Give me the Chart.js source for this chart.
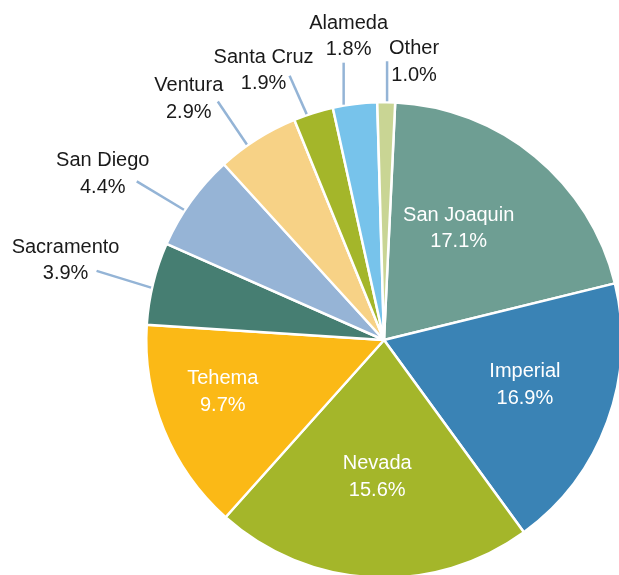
<!DOCTYPE html>
<html>
<head>
<meta charset="utf-8">
<script src="https://cdn.jsdelivr.net/npm/chart.js@4"></script>
<style>
  html, body { margin: 0; padding: 0; background: #fff; overflow: hidden; }
  #wrap { position: relative; width: 640px; height: 600px; }
</style>
</head>
<body>
<div id="wrap"><canvas id="piecanvas"></canvas></div>
<script>
// slice names, share of the circle, printed percentage labels
let counties = ["San Joaquin", "Imperial", "Nevada", "Tehema", "Sacramento",
                "San Diego", "Ventura", "Santa Cruz", "Alameda", "Other"];
let sliceShares = [20.4, 18.8, 21.6, 14.4, 5.6, 6.6, 5.6, 2.7, 3.0, 1.2];
let labelPercents = ["17.1%", "16.9%", "15.6%", "9.7%", "3.9%",
                     "4.4%", "2.9%", "1.9%", "1.8%", "1.0%"];
let sliceColors = ["#6e9e93", "#3a83b5", "#a4b62a", "#fbb916", "#467e72",
                   "#96b4d6", "#f7d286", "#a4b62a", "#77c3eb", "#c9d594"];

// label placement: inside labels use [angle shift deg, radius factor],
// outside labels use [start angle shift deg, line direction deg, line length, text dx, text dy]
let insideLayout = { 0: [-6, 0.57], 1: [-3, 0.62], 2: [0, 0.57], 3: [5, 0.71] };
let calloutLayout = {
    4: [-1.1, 287, 57, -31, -12],
    5: [-2.7, 301, 55, -34, -9],
    6: [-2.8, 326, 52, -29, -4],
    7: [-1.6, 336, 42, -26, -7],
    8: [-2.7, 360, 42, 5, -28],
    9: [0.2, 0, 40, 27, -1]
};

const FONT = '20px "Liberation Sans", Arial, Helvetica, sans-serif';

function drawTwoLines(ctx, x, y, a, b) {
    ctx.fillText(a, x, y - 11.5);
    ctx.fillText(b, x, y + 15);
}

const pieLabels = {
    id: 'pieLabels',
    afterDatasetsDraw(chart) {
        let ctx = chart.ctx;
        let arcs = chart.getDatasetMeta(0).data;
        ctx.save();
        ctx.font = FONT;
        ctx.textAlign = 'center';
        ctx.textBaseline = 'middle';
        arcs.forEach(function(arc, i) {
            let mid = (arc.startAngle + arc.endAngle) / 2;
            let r = arc.outerRadius;
            if (insideLayout[i]) {
                let lay = insideLayout[i];
                let a = mid + lay[0] * Math.PI / 180;
                let x = arc.x + Math.cos(a) * r * lay[1];
                let y = arc.y + Math.sin(a) * r * lay[1];
                ctx.fillStyle = '#ffffff';
                drawTwoLines(ctx, x, y, counties[i], labelPercents[i]);
            } else if (calloutLayout[i]) {
                let lay = calloutLayout[i];
                let s = mid + lay[0] * Math.PI / 180;
                let sx = arc.x + Math.cos(s) * (r + 1);
                let sy = arc.y + Math.sin(s) * (r + 1);
                let d = (lay[1] - 90) * Math.PI / 180;
                let ex = sx + Math.cos(d) * lay[2];
                let ey = sy + Math.sin(d) * lay[2];
                ctx.strokeStyle = '#94b4d6';
                ctx.lineWidth = 2.5;
                ctx.beginPath();
                ctx.moveTo(sx, sy);
                ctx.lineTo(ex, ey);
                ctx.stroke();
                ctx.fillStyle = '#1a1a1a';
                drawTwoLines(ctx, ex + lay[3], ey + lay[4], counties[i], labelPercents[i]);
            }
        });
        ctx.restore();
    }
};

let pieCanvas = document.getElementById('piecanvas').getContext('2d');
let pieChart = new Chart(pieCanvas, {
    type: 'pie',
    data: {
        labels: counties,
        datasets: [{
            data: sliceShares,
            backgroundColor: sliceColors,
            borderColor: '#ffffff',
            borderWidth: 2.5
        }]
    },
    options: {
        responsive: true,
        maintainAspectRatio: false,
        animation: false,
        rotation: 2.7,
        layout: { padding: { left: 145, top: 101, right: 17, bottom: 21 } },
        plugins: {
            legend: { display: false },
            tooltip: { enabled: false }
        }
    },
    plugins: [pieLabels]
});
</script>
</body>
</html>
